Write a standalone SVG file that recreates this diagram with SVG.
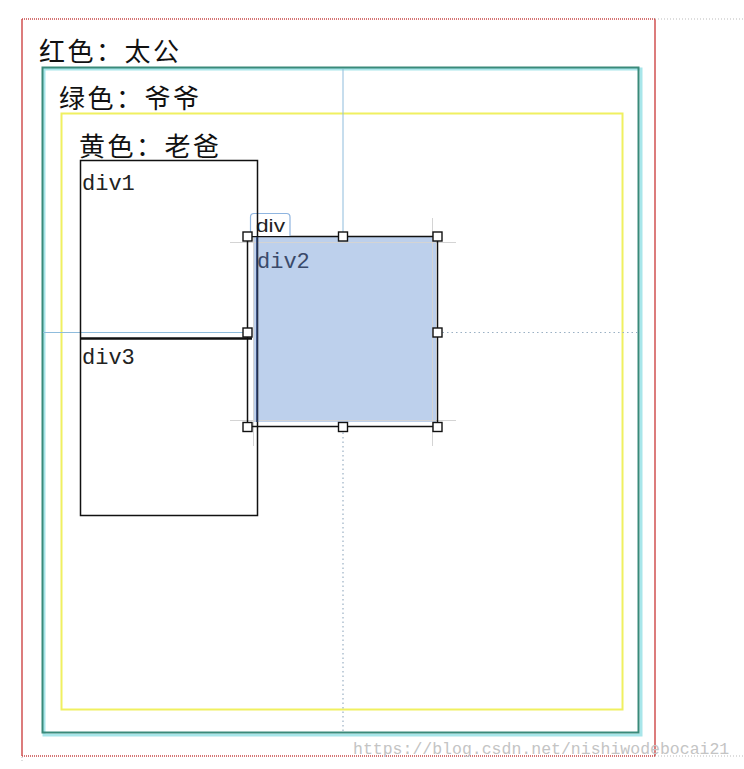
<svg xmlns="http://www.w3.org/2000/svg" width="744" height="769" viewBox="0 0 744 769">
<style>
.cn{font-family:"Noto Sans CJK SC","Noto Sans",sans-serif;font-size:26px;fill:#111;letter-spacing:2.5px}
.mono{font-family:"Liberation Mono","DejaVu Sans Mono",monospace;font-size:22px;fill:#222}
.guide{stroke:#8fbcdc;stroke-width:1;fill:none}
.dot{stroke:#9ab0c4;stroke-width:1.2;stroke-dasharray:1.5 3;fill:none}
.gray{stroke:#d4d4d4;stroke-width:1;fill:none}
.h{fill:#fff;stroke:#111;stroke-width:1.4}
</style>
<rect width="744" height="769" fill="#fff"/>
<g id="red">
<line x1="22" y1="19" x2="22" y2="756" stroke="#d05050" stroke-width="1.5"/>
<line x1="655" y1="19" x2="655" y2="756" stroke="#d05050" stroke-width="1.5"/>
<line x1="22" y1="19" x2="655" y2="19" stroke="#c84848" stroke-width="1.5" stroke-dasharray="1 1"/>
<line x1="22" y1="756" x2="655" y2="756" stroke="#c84848" stroke-width="1.5" stroke-dasharray="1 1"/>
<line x1="655" y1="19" x2="744" y2="19" stroke="#bbb" stroke-width="1" stroke-dasharray="1 2"/>
<line x1="655" y1="756" x2="744" y2="756" stroke="#bbb" stroke-width="1" stroke-dasharray="1 2"/>
<line x1="22" y1="757" x2="22" y2="763" stroke="#bbb" stroke-width="1" stroke-dasharray="1 2"/>
<text class="cn" x="39" y="61">红色：太公</text>
</g>
<g id="green">
<rect x="44" y="69" width="597" height="666" fill="none" stroke="#a8e6ea" stroke-width="3"/>
<rect x="42.5" y="67.5" width="596" height="665" fill="none" stroke="#3a8a7a" stroke-width="2"/>
<text class="cn" x="59" y="108">绿色：爷爷</text>
</g>
<g id="yellow">
<rect x="61.5" y="113.5" width="561" height="596" fill="none" stroke="#f0f060" stroke-width="2"/>
<text class="cn" x="79" y="156">黄色：老爸</text>
</g>
<g id="connectors">
<line class="guide" x1="343" y1="69" x2="343" y2="236"/>
<line class="dot" x1="343" y1="428" x2="343" y2="732"/>
<line class="guide" x1="43" y1="332.5" x2="247" y2="332.5"/>
<line class="dot" x1="438" y1="332.5" x2="638" y2="332.5"/>
</g>
<g id="div2">
<rect x="253" y="237" width="183" height="185" fill="#bdd0ec"/>
<line class="gray" x1="230" y1="242.5" x2="456" y2="242.5"/>
<line class="gray" x1="230" y1="420.5" x2="456" y2="420.5"/>
<line class="gray" x1="432.5" y1="218" x2="432.5" y2="446"/>
<line class="gray" x1="253.5" y1="218" x2="253.5" y2="446"/>
<rect x="247.5" y="236.5" width="190" height="190" fill="none" stroke="#111" stroke-width="1.5"/>
<text class="mono" x="257" y="268" style="fill:#3a4a6a">div2</text>
<path d="M250.5 236 V217 Q250.5 213.5 254 213.5 H286.5 Q290 213.5 290 217 V236" fill="#fff" stroke="#8fb5e0" stroke-width="1.2"/>
<text x="256" y="232" font-family="Liberation Sans, Arial, sans-serif" font-size="19" textLength="29" lengthAdjust="spacingAndGlyphs" fill="#222">div</text>
</g>
<g id="div1">
<path d="M80.5 338 V160.5 H257.5 V338" fill="none" stroke="#111" stroke-width="1.5"/>
<text class="mono" x="82" y="190">div1</text>
</g>
<g id="div3">
<path d="M80.5 338 V515.5 H257.5 V338" fill="none" stroke="#111" stroke-width="1.5"/>
<line x1="80" y1="338.5" x2="252" y2="338.5" stroke="#111" stroke-width="2.5"/>
<text class="mono" x="82" y="364">div3</text>
</g>
<line x1="256.8" y1="237" x2="256.8" y2="422" stroke="#3a4f80" stroke-width="1.5"/>
<g id="handles">
<rect class="h" x="243" y="232" width="9" height="9"/>
<rect class="h" x="338.5" y="232" width="9" height="9"/>
<rect class="h" x="433" y="232" width="9" height="9"/>
<rect class="h" x="243" y="328" width="9" height="9"/>
<rect class="h" x="433" y="328" width="9" height="9"/>
<rect class="h" x="243" y="422.5" width="9" height="9"/>
<rect class="h" x="338.5" y="422.5" width="9" height="9"/>
<rect class="h" x="433" y="422.5" width="9" height="9"/>
</g>
<text x="353" y="754" font-family="Liberation Mono, monospace" font-size="16.5" fill="#c4c4c4">https://blog.csdn.net/nishiwodebocai21</text>
</svg>
